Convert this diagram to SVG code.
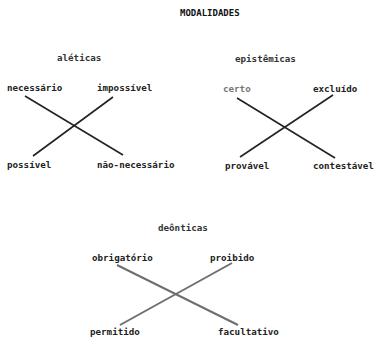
<svg xmlns="http://www.w3.org/2000/svg" width="375" height="337" viewBox="0 0 375 337">
<style>
text{font-family:"DejaVu Sans Mono","Liberation Mono",monospace;font-size:9.2px;font-weight:bold;fill:#222}
.t{font-size:9px;fill:#111}
.h{fill:#333}
.l{stroke:#222;stroke-width:1.6;fill:none}
.g{stroke:#6e6e6e;stroke-width:2;fill:none}
</style>
<rect width="375" height="337" fill="#fff"/>
<text class="t" x="180" y="16">MODALIDADES</text>
<g id="aleticas">
<text class="h" x="57" y="61">aléticas</text>
<g id="necessario"><text x="7" y="91">necessário</text></g>
<g id="impossivel"><text x="97" y="91">impossível</text></g>
<g id="possivel"><text x="7" y="168">possível</text></g>
<g id="nao-necessario"><text x="97" y="168">não-necessário</text></g>
</g>
<g id="epistemicas">
<text class="h" x="235" y="62">epistêmicas</text>
<g id="certo"><text x="223" y="92" style="fill:#777">certo</text></g>
<g id="excluido"><text x="313" y="92">excluído</text></g>
<g id="provavel"><text x="225" y="169">provável</text></g>
<g id="contestavel"><text x="313" y="169">contestável</text></g>
</g>
<g id="deonticas">
<text class="h" x="158" y="231">deônticas</text>
<g id="obrigatorio"><text x="92" y="261">obrigatório</text></g>
<g id="proibido"><text x="210" y="261">proibido</text></g>
<g id="permitido"><text x="90" y="335">permitido</text></g>
<g id="facultativo"><text x="218" y="335">facultativo</text></g>
</g>
<g id="connectors">
<line class="l" x1="25" y1="96" x2="123" y2="155"/>
<line class="l" x1="113" y1="97" x2="33" y2="156"/>
<line class="l" x1="237" y1="98" x2="335" y2="158"/>
<line class="l" x1="333" y1="95" x2="240" y2="157"/>
<line class="g" x1="117" y1="265" x2="238" y2="325"/>
<line class="g" x1="232" y1="263" x2="120" y2="325"/>
</g>
</svg>
